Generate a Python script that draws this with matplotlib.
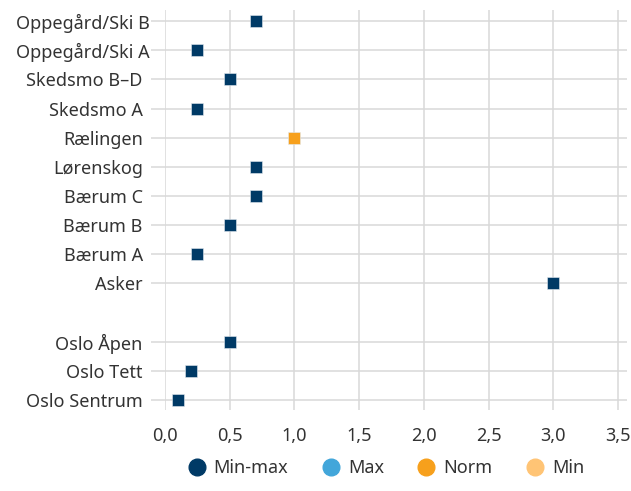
import matplotlib
matplotlib.use("Agg")
import matplotlib.pyplot as plt
import matplotlib.transforms as mtransforms
from matplotlib.lines import Line2D

plt.rcParams["font.family"] = ["Noto Sans", "DejaVu Sans"]

# Regions listed top to bottom; the Oslo group is separated by a blank row
regions_upper = ["Oppegård/Ski B", "Oppegård/Ski A", "Skedsmo B–D", "Skedsmo A",
                 "Rælingen", "Lørenskog", "Bærum C", "Bærum B", "Bærum A", "Asker"]
regions_oslo = ["Oslo Åpen", "Oslo Tett", "Oslo Sentrum"]
values_upper = [0.7, 0.25, 0.5, 0.25, 1.0, 0.7, 0.7, 0.5, 0.25, 3.0]
values_oslo = [0.5, 0.2, 0.1]
kind_upper = ["Min-max", "Min-max", "Min-max", "Min-max", "Norm",
              "Min-max", "Min-max", "Min-max", "Min-max", "Min-max"]
kind_oslo = ["Min-max", "Min-max", "Min-max"]

legend_labels = ["Min-max", "Max", "Norm", "Min"]
colors = {"Min-max": "#003a66", "Max": "#42a6da", "Norm": "#f7a01c", "Min": "#ffc475"}
x_ticks = [0.0, 0.5, 1.0, 1.5, 2.0, 2.5, 3.0, 3.5]

text_color = "#333333"
grid_color = "#d9d9d9"
fs = 13.0

# y positions: Oslo rows at the bottom, one empty slot, then the rest
n_oslo = len(regions_oslo)
y_oslo = [n_oslo - 1 - i for i in range(n_oslo)]
y_upper = [n_oslo + 1 + len(regions_upper) - 1 - i for i in range(len(regions_upper))]

labels = regions_upper + regions_oslo
values = values_upper + values_oslo
kinds = kind_upper + kind_oslo
ypos = y_upper + y_oslo

W, H = 631, 491
fig = plt.figure(figsize=(W / 100, H / 100), dpi=100)
ax = fig.add_axes([165 / W, 1 - 410 / H, (627 - 165) / W, 400 / H])

ax.set_xlim(0, 3.57)
ax.set_ylim(-0.34, max(ypos) + 0.38)

for v, y, k in zip(values, ypos, kinds):
    ax.plot([v], [y], marker="s", ms=8.6, color=colors[k],
            mec="#e4eaf0", mew=0.4, linestyle="none", zorder=3)

ax.set_xticks(x_ticks)
ax.set_xticklabels([f"{t:.1f}".replace(".", ",") for t in x_ticks])
ax.set_yticks(ypos)
ax.set_yticklabels(labels)

ax.grid(True, color=grid_color, linewidth=1.1, zorder=0)
ax.set_axisbelow(True)
for s in ax.spines.values():
    s.set_visible(False)

ax.tick_params(axis="y", length=10, width=1.1, color=grid_color, pad=6,
               labelsize=fs, labelcolor=text_color)
ax.tick_params(axis="x", length=0, pad=12, labelsize=fs, labelcolor=text_color)

# the two longest labels run past the common right edge
for lab in ax.get_yticklabels():
    if lab.get_text().startswith("Oppegård"):
        lab.set_transform(lab.get_transform() +
                          mtransforms.ScaledTranslation(7 / 100, 0, fig.dpi_scale_trans))

handles = [Line2D([], [], marker="o", linestyle="none", ms=12,
                  color=colors[k], mec=colors[k]) for k in legend_labels]
fig.legend(handles, legend_labels, loc="center", bbox_to_anchor=(386 / W, 1 - 468 / H),
           ncol=4, frameon=False, fontsize=fs, labelcolor=text_color,
           handletextpad=0.45, columnspacing=1.85, handlelength=1.0)

fig.savefig("out.png", dpi=100)
